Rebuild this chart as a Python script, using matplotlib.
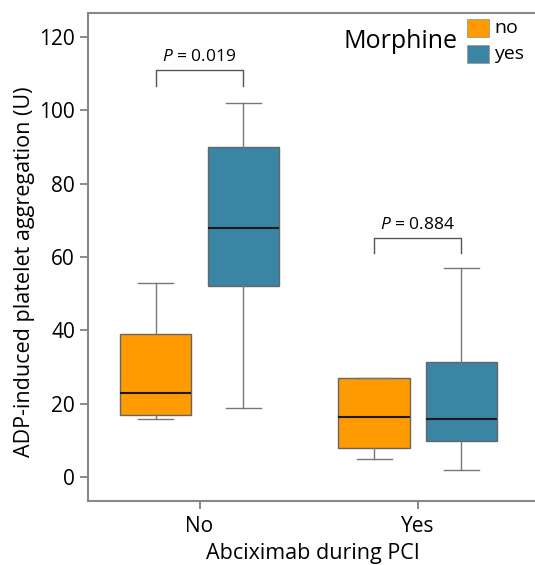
import matplotlib
matplotlib.use("Agg")
from matplotlib import pyplot as plt
from matplotlib.patches import Rectangle

plt.rcParams['font.family'] = ['Open Sans', 'DejaVu Sans']
plt.rcParams['mathtext.fontset'] = 'custom'
plt.rcParams['mathtext.it'] = 'Open Sans:italic'
plt.rcParams['mathtext.rm'] = 'Open Sans'

# data
groups = ['No', 'Yes']
morphine = ['no', 'yes']
colors = ['#FF9A00', '#3A84A4']
# order: (No, no), (No, yes), (Yes, no), (Yes, yes)
whislo = [16, 19, 5, 2]
q1 = [17, 52, 8, 10]
med = [23, 68, 16.5, 16]
q3 = [39, 90, 27, 31.5]
whishi = [53, 102, 27, 57]
pvalues = ['0.019', '0.884']
bracket_y = [111, 65.3]

fig = plt.figure(figsize=(5.35, 5.65), dpi=100)
ax = fig.add_axes([0.165, 0.113, 0.84, 0.864])

offset = 0.2
width = 0.326
stats = []
positions = []
for i in range(4):
    g = i // 2
    m = i % 2
    stats.append(dict(whislo=whislo[i], q1=q1[i], med=med[i], q3=q3[i], whishi=whishi[i], fliers=[]))
    positions.append(g + (offset if m else -offset))

bp = ax.bxp(stats, positions=positions, widths=width, patch_artist=True, showfliers=False,
            capwidths=0.16,
            boxprops=dict(edgecolor='#666666', linewidth=1.0),
            medianprops=dict(color='#1a1a1a', linewidth=1.5),
            whiskerprops=dict(color='#777777', linewidth=1.0),
            capprops=dict(color='#777777', linewidth=1.0))
for i, b in enumerate(bp['boxes']):
    b.set_facecolor(colors[i % 2])

# p-value brackets
for g in range(2):
    x0 = g - offset
    x1 = g + offset
    y = bracket_y[g]
    ax.plot([x0, x0, x1, x1], [y - 4.3, y, y, y - 4.3], color='#555555', lw=1.0)
    ax.text(g, y + 1.3, '$P$ = ' + pvalues[g], ha='center', va='bottom', fontsize=12.5)

ax.set_xlim(-0.51, 1.55)
ax.set_ylim(-6.5, 126.5)
ax.set_yticks([0, 20, 40, 60, 80, 100, 120])
ax.set_xticks([0, 1])
ax.set_xticklabels(groups)
ax.tick_params(axis='both', labelsize=15, color='#777777', length=6, width=1.2)
ax.tick_params(axis='x', pad=5)
for s in ['left', 'bottom', 'top']:
    ax.spines[s].set_color('#888888')
    ax.spines[s].set_linewidth(1.5)
ax.spines['right'].set_visible(False)

ax.set_ylabel('ADP-induced platelet aggregation (U)', fontsize=15.5)
ax.yaxis.set_label_coords(-0.118, 0.47)
ax.set_xlabel('Abciximab during PCI', fontsize=15.5, labelpad=4)

# legend drawn by hand, in figure pixels
W, H = 535.0, 565.0
fig.text(458 / W, 1 - 42 / H, 'Morphine', ha='right', va='center', fontsize=18)
for m in range(2):
    top = 19 + m * 26
    fig.patches.append(Rectangle((467 / W, 1 - (top + 18) / H), 22 / W, 18 / H,
                                 transform=fig.transFigure, facecolor=colors[m],
                                 edgecolor='#999999', lw=0.6))
    fig.text(494 / W, 1 - (top + 9) / H, morphine[m], ha='left', va='center', fontsize=14)

plt.savefig('out.png', dpi=100)
